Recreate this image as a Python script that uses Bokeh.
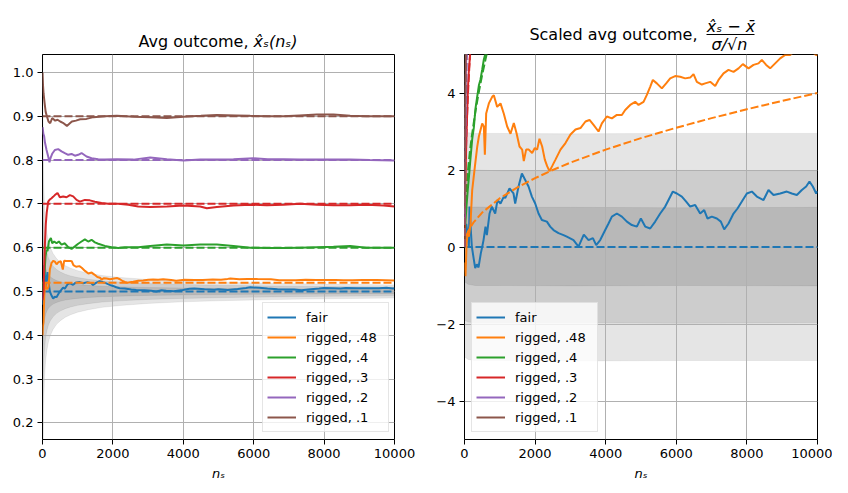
from bokeh.plotting import figure
from bokeh.layouts import row, column
from bokeh.models import (Range1d, FixedTicker, Legend, LegendItem,
                          NumeralTickFormatter, CustomJSTickFormatter)
from bokeh.embed import file_html
from bokeh.resources import INLINE
from bokeh.core.properties import value

FONT = "DejaVu Sans"

# ---------------- data ----------------
labels = ["fair", "rigged, .48", "rigged, .4", "rigged, .3", "rigged, .2", "rigged, .1"]
colors = ["#1f77b4", "#ff7f0e", "#2ca02c", "#d62728", "#9467bd", "#8c564b"]
true_means = [0.5, 0.52, 0.6, 0.7, 0.8, 0.9]
x_ends = [0, 10000]
x_ticks = [0, 2000, 4000, 6000, 8000, 10000]
left_y_ticks = [0.2, 0.3, 0.4, 0.5, 0.6, 0.7, 0.8, 0.9, 1.0]
right_y_ticks = [-4, -2, 0, 2, 4]

# left panel: running average outcome
fair_n = [1, 15, 30, 48, 65, 86, 115, 142, 175, 208,
          260, 303, 350, 397, 463, 539, 586, 633, 709, 775,
          869, 935, 1059, 1153, 1275, 1388, 1436, 1530, 1626, 1720,
          1814, 1909, 2003, 2097, 2192, 2334, 2522, 2663, 2899, 3088,
          3230, 3380, 3514, 3731, 3986, 4175, 4316, 4600, 4883, 4996,
          5260, 5544, 5780, 5902, 6157, 6393, 6676, 6885, 7149, 7357,
          7621, 7857, 7999, 8282, 8471, 8612, 8943, 9273, 9556, 9773,
          9962, 10000]
fair_avg = [0.5, 0.47, 0.5, 0.56, 0.54, 0.51, 0.53, 0.544, 0.52, 0.5,
            0.49, 0.484, 0.488, 0.487, 0.496, 0.504, 0.509, 0.506, 0.516, 0.519,
            0.515, 0.52, 0.5214, 0.5187, 0.5213, 0.5187, 0.5149, 0.5201, 0.5237, 0.521,
            0.5184, 0.515, 0.5126, 0.5095, 0.5075, 0.5068, 0.5044, 0.5035, 0.5025, 0.5016,
            0.5001, 0.5028, 0.5015, 0.5004, 0.5035, 0.5061, 0.5066, 0.5049, 0.5038, 0.5052,
            0.5033, 0.5058, 0.508, 0.5094, 0.5083, 0.5066, 0.5053, 0.5045, 0.5044, 0.5027,
            0.505, 0.5067, 0.5078, 0.5072, 0.5066, 0.508, 0.5073, 0.5072, 0.5076, 0.5086,
            0.507, 0.5073]

r48_n = [1, 10, 28, 50, 76, 100, 130, 170, 209, 257,
         303, 351, 400, 453, 519, 577, 614, 689, 784, 831,
         878, 953, 1048, 1114, 1208, 1303, 1397, 1473, 1558, 1633,
         1680, 1746, 1822, 1916, 1992, 2124, 2200, 2275, 2341, 2407,
         2483, 2577, 2719, 2860, 3002, 3144, 3285, 3427, 3656, 3797,
         4033, 4316, 4552, 4836, 5072, 5260, 5336, 5591, 5827, 6110,
         6488, 6724, 6960, 7196, 7479, 7763, 8046, 8329, 8546, 8801,
         9084, 9500, 9750, 10000]
r48_avg = [0.40, 0.42, 0.43, 0.49, 0.521, 0.51, 0.505, 0.51, 0.55, 0.565,
           0.57, 0.568, 0.562, 0.567, 0.569, 0.55, 0.57, 0.5695, 0.5698, 0.569,
           0.5602, 0.5564, 0.5578, 0.554, 0.5469, 0.541, 0.5431, 0.5385, 0.533, 0.5313,
           0.5272, 0.5303, 0.5296, 0.5279, 0.5288, 0.5305, 0.5278, 0.5238, 0.5217, 0.5201,
           0.5211, 0.5223, 0.5243, 0.5252, 0.5266, 0.5272, 0.527, 0.5279, 0.5262, 0.5243,
           0.5267, 0.5261, 0.5264, 0.5271, 0.5265, 0.5287, 0.5297, 0.5276, 0.5287, 0.5283,
           0.5279, 0.5257, 0.5257, 0.5256, 0.5266, 0.5263, 0.5259, 0.5261, 0.5256, 0.5254,
           0.5262, 0.5264, 0.5258, 0.5249]

r4_n = [1, 20, 48, 70, 86, 115, 143, 181, 238, 276,
        332, 399, 465, 541, 635, 730, 825, 920, 1014, 1109,
        1204, 1298, 1393, 1488, 1583, 1772, 1961, 2151, 2340, 2719,
        3059, 3532, 4006, 4480, 4953, 5426, 5900, 6400, 6847, 7300,
        7794, 8267, 8741, 9200, 10000]
r4_avg = [0.5, 0.52, 0.534, 0.56, 0.58, 0.595, 0.592, 0.614, 0.622, 0.61,
          0.614, 0.61, 0.614, 0.607, 0.61, 0.601, 0.597, 0.603, 0.609, 0.614,
          0.619, 0.614, 0.618, 0.612, 0.609, 0.604, 0.601, 0.599, 0.601, 0.601,
          0.604, 0.607, 0.605, 0.607, 0.607, 0.604, 0.6, 0.599, 0.599, 0.6,
          0.601, 0.602, 0.604, 0.6, 0.6]

r3_n = [1, 29, 50, 70, 95, 120, 162, 210, 257, 300,
        351, 427, 493, 588, 683, 778, 872, 967, 1062, 1204,
        1346, 1488, 1677, 1867, 2151, 2435, 2719, 3059, 3532, 4006,
        4480, 4669, 4953, 5426, 5900, 6373, 6847, 7320, 7794, 8267,
        8741, 9214, 9688, 10000]
r3_avg = [0.48, 0.5, 0.56, 0.61, 0.655, 0.68, 0.705, 0.71, 0.713, 0.716,
          0.72, 0.725, 0.715, 0.717, 0.715, 0.72, 0.717, 0.709, 0.705, 0.709,
          0.708, 0.705, 0.702, 0.7, 0.7, 0.698, 0.694, 0.693, 0.694, 0.696,
          0.694, 0.69, 0.693, 0.696, 0.698, 0.697, 0.698, 0.7, 0.698, 0.697,
          0.697, 0.698, 0.696, 0.694]

r2_n = [1, 10, 25, 45, 70, 115, 162, 199, 230, 280,
        351, 446, 541, 635, 730, 825, 920, 1014, 1109, 1251,
        1393, 1583, 1772, 2112, 2585, 3059, 3532, 4006, 4480, 5000,
        5426, 5994, 6400, 6847, 7300, 7794, 8267, 8741, 9300, 10000]
r2_avg = [0.875, 0.87, 0.86, 0.855, 0.84, 0.823, 0.808, 0.795, 0.805, 0.815,
          0.823, 0.825, 0.82, 0.816, 0.812, 0.814, 0.81, 0.812, 0.816, 0.808,
          0.804, 0.802, 0.801, 0.802, 0.801, 0.806, 0.802, 0.799, 0.801, 0.801,
          0.802, 0.804, 0.802, 0.802, 0.801, 0.801, 0.801, 0.801, 0.8, 0.799]

r1_n = [1, 15, 30, 60, 90, 125, 170, 219, 276, 361,
        427, 503, 580, 693, 778, 835, 950, 1071, 1250, 1449,
        1772, 2112, 2600, 3059, 3532, 4006, 4500, 4953, 5500, 5900,
        6400, 6847, 7300, 7794, 8267, 8741, 9200, 9700, 10000]
r1_avg = [1.0, 0.97, 0.952, 0.93, 0.91, 0.9, 0.888, 0.884, 0.896, 0.89,
          0.892, 0.888, 0.885, 0.878, 0.884, 0.888, 0.89, 0.893, 0.894, 0.898,
          0.9, 0.901, 0.899, 0.898, 0.896, 0.899, 0.901, 0.903, 0.902, 0.901,
          0.9, 0.9, 0.902, 0.904, 0.904, 0.901, 0.9, 0.9, 0.9]

# left panel: one-sigma half width of the fair-coin spread
band_n = [1, 3, 6, 10, 15, 20, 30, 40, 60, 80,
          100, 130, 170, 220, 300, 400, 500, 650, 800, 1000,
          1300, 1700, 2200, 3000, 4000, 5000, 6500, 8000, 10000]
band_hw = [0.5, 0.2887, 0.2041, 0.1581, 0.1291, 0.1118, 0.0913, 0.0791, 0.0645, 0.0559,
           0.05, 0.0439, 0.0383, 0.0337, 0.0289, 0.025, 0.0224, 0.0196, 0.0177, 0.0158,
           0.0139, 0.0121, 0.0107, 0.0091, 0.0079, 0.0071, 0.0062, 0.0056, 0.005]
sigma_levels = [1, 2, 3]

# right panel: scaled average outcome
fair_zn = [1, 28, 50, 85, 124, 142, 175, 208, 260, 303,
           350, 397, 463, 501, 539, 595, 633, 709, 775, 869,
           935, 1020, 1114, 1153, 1275, 1388, 1436, 1530, 1626, 1720,
           1814, 1909, 2003, 2097, 2192, 2334, 2428, 2522, 2663, 2805,
           2899, 3088, 3230, 3380, 3514, 3637, 3731, 3844, 3986, 4080,
           4175, 4316, 4458, 4600, 4741, 4883, 4996, 5119, 5260, 5402,
           5544, 5685, 5780, 5902, 6016, 6157, 6280, 6393, 6535, 6676,
           6790, 6885, 7007, 7149, 7262, 7357, 7479, 7621, 7734, 7857,
           7999, 8140, 8282, 8471, 8612, 8754, 8943, 9131, 9273, 9415,
           9556, 9679, 9773, 9868, 9962, 10000]
fair_z = [0.0, 0.19, 0.6, 0.36, 0.0, 1.05, 0.5, 0.01, -0.3, -0.55,
          -0.45, -0.53, -0.16, 0.0, 0.18, 0.53, 0.31, 0.87, 1.05, 0.87,
          1.22, 1.13, 1.31, 1.27, 1.52, 1.39, 1.13, 1.57, 1.91, 1.74,
          1.57, 1.31, 1.13, 0.87, 0.70, 0.66, 0.53, 0.44, 0.36, 0.31,
          0.27, 0.18, 0.01, 0.32, 0.18, 0.23, 0.05, 0.18, 0.44, 0.61,
          0.79, 0.87, 0.79, 0.66, 0.57, 0.53, 0.74, 0.53, 0.48, 0.66,
          0.87, 1.05, 1.22, 1.44, 1.39, 1.31, 1.18, 1.05, 1.09, 0.87,
          0.96, 0.74, 0.79, 0.74, 0.66, 0.46, 0.61, 0.87, 1.0, 1.18,
          1.39, 1.44, 1.31, 1.22, 1.48, 1.35, 1.39, 1.44, 1.39, 1.35,
          1.48, 1.57, 1.70, 1.57, 1.39, 1.45]

r48_zn = [1, 28, 60, 90, 124, 170, 218, 294, 360, 407,
          454, 501, 548, 577, 614, 690, 784, 831, 925, 1020,
          1114, 1209, 1303, 1397, 1473, 1558, 1633, 1680, 1746, 1822,
          1916, 1992, 2058, 2124, 2200, 2275, 2341, 2407, 2483, 2577,
          2719, 2860, 3002, 3144, 3285, 3427, 3542, 3656, 3797, 3892,
          4033, 4175, 4316, 4458, 4552, 4694, 4836, 4930, 5072, 5166,
          5260, 5336, 5449, 5591, 5713, 5827, 5968, 6110, 6252, 6393,
          6488, 6582, 6724, 6818, 6960, 7102, 7196, 7338, 7479, 7621,
          7763, 7885, 8046, 8187, 8329, 8423, 8546, 8659, 8801, 8943,
          9084, 9226, 9400, 9600, 9800, 9955, 10000]
r48_z = [-0.4, -0.76, 0.1, 0.36, 0.27, 0.6, 1.48, 2.09, 2.6, 2.87,
         3.04, 3.21, 3.13, 2.4, 3.47, 3.73, 3.9, 3.94, 3.64, 3.73,
         3.46, 3.13, 2.94, 3.22, 2.96, 2.61, 2.53, 2.23, 2.53, 2.53,
         2.44, 2.57, 2.53, 2.81, 2.61, 2.27, 2.10, 1.97, 2.10, 2.27,
         2.53, 2.70, 2.92, 3.05, 3.09, 3.26, 3.30, 3.17, 3.0, 3.21,
         3.39, 3.34, 3.43, 3.43, 3.56, 3.69, 3.77, 3.69, 3.77, 3.95,
         4.16, 4.34, 4.25, 4.12, 4.25, 4.38, 4.44, 4.42, 4.38, 4.40,
         4.49, 4.29, 4.22, 4.25, 4.29, 4.18, 4.34, 4.51, 4.60, 4.55,
         4.64, 4.75, 4.64, 4.73, 4.77, 4.86, 4.73, 4.64, 4.77, 4.90,
         4.99, 4.99, 5.12, 5.18, 5.1, 4.99, 4.98]

r4_zn = [1, 30, 60, 94, 124, 160, 218, 264, 312, 359, 408, 453, 500, 548, 600, 650]
r4_z = [0.2, 0.7, 1.1, 1.5, 1.8, 2.2, 2.8, 3.1, 3.6, 3.9, 4.2, 4.35, 4.6, 4.87, 5.05, 5.3]
r3_zn = [1, 10, 25, 45, 70, 96, 125, 160, 200]
r3_z = [0.0, 0.9, 1.7, 2.5, 3.3, 4.1, 4.6, 5.0, 5.6]
r2_zn = [1, 10, 25, 45, 70]
r2_z = [0.75, 2.3, 3.6, 4.76, 5.7]
r1_zn = [1, 15, 30, 60]
r1_z = [1.0, 3.64, 4.95, 6.66]

# right panel: expected scaled outcome (dashed)
fair_en = [0, 10000]
fair_e = [0.0, 0.0]
r48_en = [0, 25, 100, 250, 500, 1000, 1500, 2000, 2500, 3000, 4000, 5000, 6000, 7000, 8000, 9000, 10000]
r48_e = [0.0, 0.2, 0.4, 0.632, 0.894, 1.265, 1.549, 1.789, 2.0, 2.191, 2.53, 2.828, 3.098, 3.347, 3.578, 3.795, 4.0]
r4_en = [0, 10, 25, 50, 100, 150, 200, 300, 400, 500, 625, 700]
r4_e = [0.0, 0.632, 1.0, 1.414, 2.0, 2.449, 2.828, 3.464, 4.0, 4.472, 5.0, 5.292]
r3_en = [0, 5, 15, 30, 50, 75, 100, 130, 156, 200]
r3_e = [0.0, 0.894, 1.549, 2.191, 2.828, 3.464, 4.0, 4.561, 4.996, 5.657]
r2_en = [0, 5, 15, 30, 50, 70, 100]
r2_e = [0.0, 1.342, 2.324, 3.286, 4.243, 5.02, 6.0]
r1_en = [0, 5, 15, 25, 40, 60]
r1_e = [0.0, 1.789, 3.098, 4.0, 5.06, 6.197]

# right panel: empirical sigma bands
zb_n = [0, 100, 300, 1000, 3000, 6000, 10000]
zb_up1 = [1.05, 1.03, 1.04, 1.03, 1.03, 1.02, 1.03]
zb_lo1 = [-0.9, -0.97, -1.0, -1.0, -1.01, -1.0, -1.01]
zb_up2 = [2.0, 1.99, 2.0, 1.98, 1.98, 1.99, 1.98]
zb_lo2 = [-1.9, -1.95, -1.97, -1.97, -1.97, -1.98, -1.97]
zb_up3 = [2.95, 2.97, 2.95, 2.95, 2.94, 2.95, 2.95]
zb_lo3 = [-2.85, -2.92, -2.95, -2.95, -2.96, -2.95, -2.95]

left_series = [(fair_n, fair_avg), (r48_n, r48_avg), (r4_n, r4_avg),
               (r3_n, r3_avg), (r2_n, r2_avg), (r1_n, r1_avg)]
right_series = [(fair_zn, fair_z), (r48_zn, r48_z), (r4_zn, r4_z),
                (r3_zn, r3_z), (r2_zn, r2_z), (r1_zn, r1_z)]
right_expected = [(fair_en, fair_e), (r48_en, r48_e), (r4_en, r4_e),
                  (r3_en, r3_e), (r2_en, r2_e), (r1_en, r1_e)]
zbands = [(zb_lo1, zb_up1), (zb_lo2, zb_up2), (zb_lo3, zb_up3)]

# ---------------- layout constants (pixels) ----------------
TITLE_H = 54
W_LEFT = 42 + 352 + 36
W_RIGHT = 34 + 353 + 15


def make_fig(frame_w, left, right, y_range):
    p = figure(frame_width=frame_w, frame_height=385,
               min_border_left=left, min_border_right=right,
               min_border_top=0, min_border_bottom=44,
               x_range=Range1d(0, 10000), y_range=y_range,
               toolbar_location=None, output_backend="svg", title=None)
    p.background_fill_color = "white"
    p.border_fill_color = "white"
    p.outline_line_color = "black"
    p.outline_line_alpha = 1
    p.outline_line_width = 1
    for ax in (p.xaxis[0], p.yaxis[0]):
        ax.major_label_text_font = FONT
        ax.major_label_text_font_size = "13px"
        ax.major_label_text_color = "black"
        ax.major_tick_in = 0
        ax.major_tick_out = 5
        ax.major_tick_line_color = "black"
        ax.major_tick_line_width = 1
        ax.minor_tick_line_color = None
        ax.axis_line_color = None
        ax.major_label_standoff = 4
    p.xaxis.ticker = FixedTicker(ticks=x_ticks)
    p.xaxis.formatter = NumeralTickFormatter(format="0")
    p.xaxis.axis_label = "nₛ"
    p.xaxis.axis_label_text_font = FONT
    p.xaxis.axis_label_text_font_size = "13px"
    p.xaxis.axis_label_text_font_style = "italic"
    p.xaxis.axis_label_text_color = "black"
    p.xaxis.axis_label_standoff = 5
    p.grid.grid_line_color = "#b0b0b0"
    p.grid.grid_line_width = 1
    return p


def add_legend(p, renderers, loc):
    items = [LegendItem(label=lab, renderers=[r]) for lab, r in zip(labels, renderers)]
    leg = Legend(items=items, location=loc, margin=0, padding=4, spacing=0,
                 glyph_width=29, glyph_height=20, label_height=20, label_width=78,
                 label_standoff=10,
                 label_text_font=FONT, label_text_font_size="13px", label_text_color="black",
                 border_line_color="#cccccc", border_line_width=1,
                 background_fill_color="white", background_fill_alpha=0.8)
    p.add_layout(leg)


# title strip (pixel coordinates, y downwards)
t = figure(width=W_LEFT + W_RIGHT, height=TITLE_H,
           x_range=Range1d(0, W_LEFT + W_RIGHT), y_range=Range1d(TITLE_H, 0),
           x_axis_type=None, y_axis_type=None, toolbar_location=None,
           output_backend="svg", title=None, min_border=0)
t.outline_line_color = None
t.background_fill_color = "white"
t.border_fill_color = "white"
t.grid.visible = False
t.text(x=[248, 697], y=[40.5, 34], text=["Avg outcome,", "Scaled avg outcome,"],
       text_font=value(FONT), text_font_size="16px", text_align="right",
       text_baseline="alphabetic", text_color="black")
t.text(x=[253], y=[40.5], text=["x̂ₛ(nₛ)"],
       text_font=value(FONT), text_font_size="16px", text_font_style="italic",
       text_align="left", text_baseline="alphabetic", text_color="black")
t.text(x=[730.5, 729], y=[25.5, 44], text=["x̂ₛ − x̄", "σ/√n"],
       text_font=value(FONT), text_font_size="16px", text_font_style="italic",
       text_align="center", text_baseline="alphabetic", text_color="black")
t.segment(x0=[706], y0=[34], x1=[754], y1=[34], line_color="black", line_width=1)

# left figure
p1 = make_fig(352, 42, 36, Range1d(0.162, 1.041))
p1.yaxis.ticker = FixedTicker(ticks=left_y_ticks)
p1.yaxis.formatter = NumeralTickFormatter(format="0.0")
for k in sigma_levels:
    up = [true_means[0] + k * h for h in band_hw]
    lo = [true_means[0] - k * h for h in band_hw]
    p1.varea(x=band_n, y1=lo, y2=up, fill_color="black", fill_alpha=0.1, level="image")
    p1.line(band_n, up, line_color="black", line_alpha=0.06, line_width=1, level="image")
    p1.line(band_n, lo, line_color="black", line_alpha=0.06, line_width=1, level="image")
leg1 = []
for (xs, ys), c, m in zip(left_series, colors, true_means):
    r = p1.line(xs, ys, line_color=c, line_width=2)
    leg1.append(r)
    p1.line(x_ends, [m, m], line_color=c, line_width=2, line_dash="8 3")
add_legend(p1, leg1, (220, 7))

# right figure
p2 = make_fig(353, 34, 15, Range1d(-5, 5))
p2.yaxis.ticker = FixedTicker(ticks=right_y_ticks)
p2.yaxis.formatter = CustomJSTickFormatter(
    code="return (tick < 0 ? '\\u2212' : '') + Math.abs(tick).toString();")
for lo, up in zbands:
    p2.varea(x=zb_n, y1=lo, y2=up, fill_color="black", fill_alpha=0.1, level="image")
    p2.line(zb_n, up, line_color="black", line_alpha=0.06, line_width=1, level="image")
    p2.line(zb_n, lo, line_color="black", line_alpha=0.06, line_width=1, level="image")
leg2 = []
for (xs, ys), (ex, ey), c in zip(right_series, right_expected, colors):
    r = p2.line(xs, ys, line_color=c, line_width=2)
    leg2.append(r)
    p2.line(ex, ey, line_color=c, line_width=2, line_dash="8 3")
add_legend(p2, leg2, (7, 7))

layout = column(t, row(p1, p2))
open("out.html", "w").write(file_html(layout, INLINE))
